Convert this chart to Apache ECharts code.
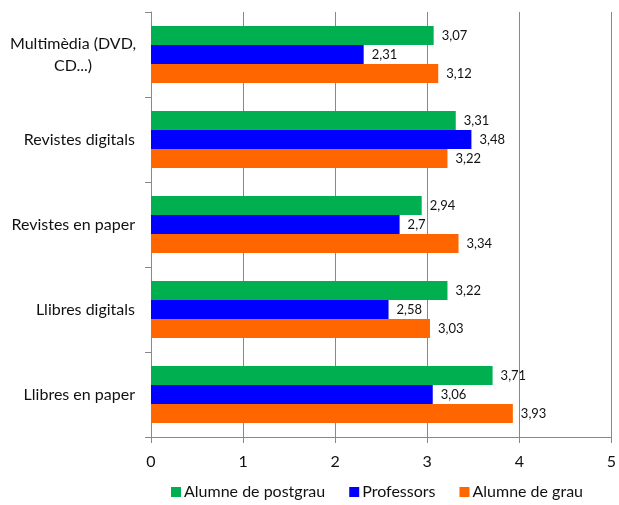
<!DOCTYPE html>
<html><head><meta charset="utf-8">
<script src="https://cdn.jsdelivr.net/npm/echarts@6/dist/echarts.min.js"></script>
<style>html,body{margin:0;padding:0;background:#fff}#c{width:619px;height:505px}</style>
</head><body><div id="c"></div>
<script>
const categories = ['Llibres en paper','Llibres digitals','Revistes en paper','Revistes digitals','Multimèdia (DVD,\nCD...)'];
const postgrau = [3.71, 3.22, 2.94, 3.31, 3.07];
const professors = [3.06, 2.58, 2.7, 3.48, 2.31];
const grau = [3.93, 3.03, 3.34, 3.22, 3.12];
const seriesNames = ['Alumne de postgrau','Professors','Alumne de grau'];
const xTicks = [0,1,2,3,4,5];

const font = 'Lato, "Open Sans", sans-serif';
const chart = echarts.init(document.getElementById('c'));
const lbl = {show:true, position:'right', distance:8, color:'#111', fontFamily:font, fontSize:13,
  formatter:p=>String(p.value).replace('.',',')};
const yData = categories.map((c,i)=> c.indexOf('\n')>=0
  ? {value:c, textStyle:{align:'center', padding:[0,124,0,0]}} : c);
chart.setOption({
  animation:false,
  grid:{left:151, right:4, top:12, bottom:68, containLabel:false},
  legend:{bottom:0, left:166, itemWidth:10, itemHeight:10, itemGap:24, icon:'rect',
    textStyle:{fontFamily:font, fontSize:16, color:'#111', padding:[0,0,0,-2]},
    data:seriesNames},
  xAxis:{type:'value', min:xTicks[0], max:xTicks[xTicks.length-1], interval:1,
    axisLine:{show:true, lineStyle:{color:'#888', width:1}},
    axisTick:{show:true, length:6, lineStyle:{color:'#888'}},
    splitLine:{show:true, lineStyle:{color:'#888', width:1}},
    axisLabel:{fontFamily:font, fontSize:16, color:'#111', margin:17}},
  yAxis:{type:'category', data:yData,
    axisLine:{show:true, lineStyle:{color:'#888', width:1}},
    axisTick:{show:true, length:6, lineStyle:{color:'#888'}},
    axisLabel:{fontFamily:font, fontSize:16, color:'#111', margin:16, lineHeight:22}
    },
  series:[
    {name:seriesNames[0], type:'bar', data:postgrau, itemStyle:{color:'#00B050'}, barGap:'0%', barCategoryGap:'33%', label:lbl},
    {name:seriesNames[1], type:'bar', data:professors, itemStyle:{color:'#0000FF'}, barGap:'0%', barCategoryGap:'33%', label:lbl},
    {name:seriesNames[2], type:'bar', data:grau, itemStyle:{color:'#FF6600'}, barGap:'0%', barCategoryGap:'33%', label:lbl}
  ]
});
</script></body></html>
